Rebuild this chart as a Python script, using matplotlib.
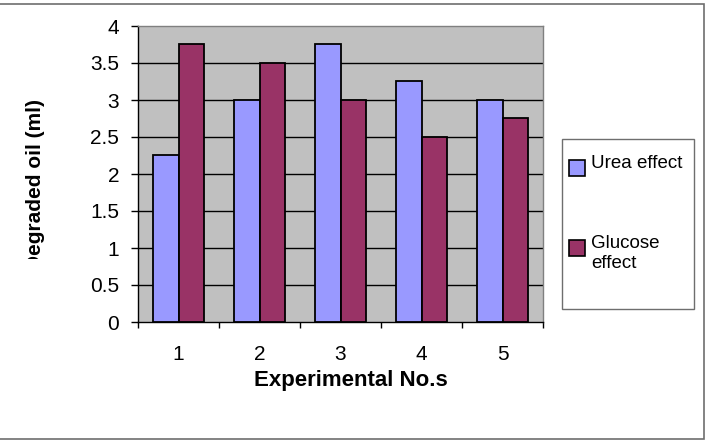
import matplotlib

matplotlib.use("Agg")
import matplotlib.pyplot as plt
import numpy as np
from matplotlib.patches import Rectangle
from matplotlib.transforms import Bbox, TransformedBbox

plt.rcParams["font.family"] = ["Liberation Sans", "DejaVu Sans"]

experiments = [1, 2, 3, 4, 5]
urea = [2.25, 3.0, 3.75, 3.25, 3.0]
glucose = [3.75, 3.5, 3.0, 2.5, 2.75]
series_names = ["Urea effect", "Glucose\neffect"]
y_ticks = [0, 0.5, 1, 1.5, 2, 2.5, 3, 3.5, 4]

W, H = 706, 440
fig = plt.figure(figsize=(W / 100, H / 100), dpi=100)


def px(x, y):
    """pixel position (from top-left) -> figure fraction"""
    return x / W, 1 - y / H


# outer chart frame (left edge is cut off in the original)
fig.patches.append(Rectangle((-0.01, 1.5 / H), 703.5 / W + 0.01, (438.5 - 4.5) / H,
                             transform=fig.transFigure, fill=False,
                             edgecolor="#6e6e6e", linewidth=1.2))

ax = fig.add_axes([138 / W, 1 - 322 / H, (543 - 138) / W, (322 - 26) / H])
ax.set_facecolor("#C0C0C0")

x = np.array(experiments, dtype=float)
bw = 0.31
b1 = ax.bar(x - bw / 2, urea, bw, color="#9999FF", edgecolor="black",
            linewidth=1.3, zorder=3)
b2 = ax.bar(x + bw / 2, glucose, bw, color="#993366", edgecolor="black",
            linewidth=1.3, zorder=3)

ax.set_xlim(0.5, 5.5)
ax.set_ylim(0, 4)
ax.set_yticks(y_ticks)
ax.set_yticklabels([f"{v:g}" for v in y_ticks])
for v in y_ticks[1:-1]:
    ax.axhline(v, color="black", linewidth=1.0, zorder=1)

# ticks at category boundaries, labels at centres
ax.set_xticks(np.arange(0.5, 6.0, 1.0))
ax.set_xticklabels([])
ax.set_xticks(x, minor=True)
ax.set_xticklabels([str(e) for e in experiments], minor=True)
ax.tick_params(axis="x", which="major", direction="out", length=4.5, width=1.0)
ax.tick_params(axis="x", which="minor", length=0, pad=16.5, labelsize=15)
ax.tick_params(axis="y", direction="out", length=5, width=1.0, pad=8.5, labelsize=15)

for side in ("top", "right"):
    ax.spines[side].set_color("#808080")
    ax.spines[side].set_linewidth(1.0)
for side in ("left", "bottom"):
    ax.spines[side].set_color("black")
    ax.spines[side].set_linewidth(1.0)

fig.text(*px(351, 380), "Experimental No.s", ha="center", va="center",
         fontsize=16, fontweight="bold")

# y label is cut off at the bottom in the original
ylab = fig.text(*px(36, 99), "Degraded oil (ml)", rotation=90,
                ha="center", va="top", fontsize=15, fontweight="bold")
ylab.set_clip_box(TransformedBbox(Bbox([[0, 1 - 259 / H], [1, 1]]), fig.transFigure))
ylab.set_clip_on(True)

# legend box, drawn like the spreadsheet one (key aligned with first text line)
lx0, ly0 = px(562, 309)
lx1, ly1 = px(694, 139)
fig.patches.append(Rectangle((lx0, ly0), lx1 - lx0, ly1 - ly0, transform=fig.transFigure,
                             facecolor="white", edgecolor="#6e6e6e", linewidth=1.0))
for bars, name, ytop in [(b1, series_names[0], 160), (b2, series_names[1], 240)]:
    kx, ky = px(569, ytop + 16)
    fig.patches.append(Rectangle((kx, ky), 16 / W, 16 / H, transform=fig.transFigure,
                                 facecolor=bars.patches[0].get_facecolor(),
                                 edgecolor="black", linewidth=1.2))
    fig.text(*px(591, ytop - 5), name, ha="left", va="top", fontsize=13.5,
             linespacing=1.2)

fig.savefig("out.png", dpi=100)
